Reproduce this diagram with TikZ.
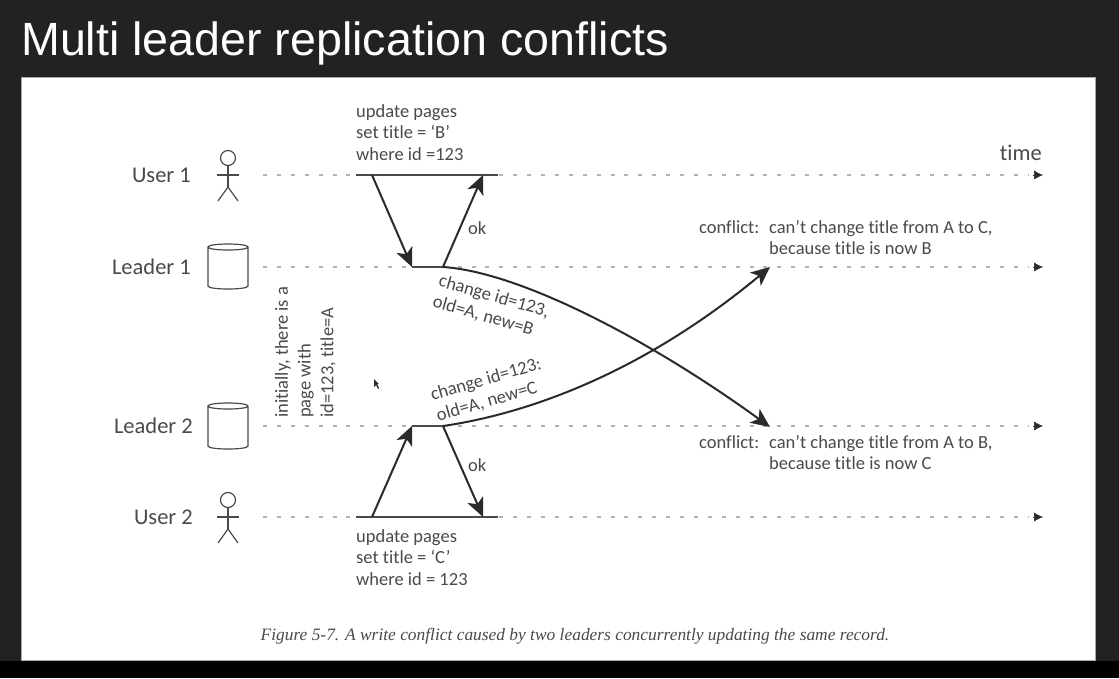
\documentclass[tikz,border=0pt]{standalone}
\usepackage{fontspec}
\setmainfont[Ligatures=NoCommon]{Carlito}
\newfontfamily\titlefont{Liberation Sans}
\newfontfamily\capfont{Liberation Serif}
\usetikzlibrary{arrows.meta,shapes.geometric}
\definecolor{slidebg}{HTML}{222222}
\definecolor{txt}{HTML}{4A4A4A}
\definecolor{ln}{HTML}{2A2A2A}
\tikzset{
  lbl/.style={inner sep=0pt,text=txt,font=\fontsize{18.5}{21.7}\selectfont,align=left},
  who/.style={inner sep=0pt,text=txt,font=\fontsize{22.5}{24}\selectfont},
  timeline/.style={draw=gray!60,line width=1.3pt,dash pattern=on 4pt off 9.9pt},
  tiphead/.style={-{Latex[length=9pt,width=9pt]},ln,line width=.5pt},
  held/.style={draw=ln!85!white,line width=2.2pt},
  msg/.style={draw=ln,line width=2pt,-{Stealth[length=19pt,width=17pt,inset=5pt]}},
  outline/.style={draw=txt,line width=1.2pt},
  stick/.style={draw=txt,line width=1.2pt,fill=white}
}
\begin{document}
\begin{tikzpicture}[x=1pt,y=-1pt]
\useasboundingbox (0,0) rectangle (1119,678);
\fill[slidebg] (0,0) rectangle (1119,678);
\fill[black] (0,661) rectangle (1119,678);
\fill[white,draw=gray!70,line width=1pt] (21,77) rectangle (1095,660);
\node[anchor=west,inner sep=0pt,text=white,font=\titlefont\fontsize{46.6}{50}\selectfont] (title) at (21,43) {Multi leader replication conflicts};

% timelines
\foreach \n/\y in {a/175,b/267,c/426,d/517}{
  \coordinate (s\n) at (263,\y);
  \coordinate (e\n) at (1028,\y);
  \coordinate (t\n) at (1043,\y);
  \draw[timeline] (s\n) -- (e\n);
  \draw[tiphead] (1033,\y) -- (t\n);
}
% names
\node[who,anchor=east] (u1) at (191,175) {User 1};
\node[who,anchor=east] (l1) at (191,267) {Leader 1};
\node[who,anchor=east] (l2) at (193,426) {Leader 2};
\node[who,anchor=east] (u2) at (193,517) {User 2};
\node[who,anchor=east] (time) at (1042,153) {time};

% stick figures
\foreach \n/\y in {a/158,b/500}{
  \node[circle,stick,minimum size=15pt,inner sep=0pt] (h\n) at (228,\y) {};
  \coordinate (hip\n) at (228,\y+29);
  \draw[stick] (h\n.south) -- (hip\n);
  \draw[stick] (217,\y+17) -- (239,\y+17);
  \draw[stick] (218,\y+43) -- (hip\n) -- (238,\y+43);
}
% cylinders
\foreach \n/\t/\b in {a/247/289,b/406/449}{
  \draw[outline,fill=white] (208,\t) -- (208,\b-3) .. controls (208,\b+1) and (248,\b+1) .. (248,\b-3) -- (248,\t)
    .. controls (248,\t-4) and (208,\t-4) .. (208,\t) .. controls (208,\t+4) and (248,\t+4) .. (248,\t);
}
% request segments
\coordinate (u1a) at (356,175); \coordinate (u1b) at (498,175);
\coordinate (l1a) at (412,267); \coordinate (l1b) at (443,267);
\coordinate (l2a) at (412,426); \coordinate (l2b) at (443,426);
\coordinate (u2a) at (356,517); \coordinate (u2b) at (498,517);
\coordinate (p1) at (372,175); \coordinate (p2) at (483,175);
\coordinate (q1) at (372,517); \coordinate (q2) at (483,517);
\coordinate (c1) at (770,267); \coordinate (c2) at (770,427);
\draw[held] (u1a) -- (u1b);
\draw[held] (u2a) -- (u2b);
\draw[held] (l1a) -- (l1b);
\draw[held] (l2a) -- (l2b);
\draw[msg] (p1) -- (l1a);
\draw[msg] (l1b) -- (p2);
\draw[msg] (q1) -- (l2a);
\draw[msg] (l2b) -- (q2);
\draw[msg] (l1b) .. controls (520,272) and (650,340) .. (c2);
\draw[msg] (l2b) .. controls (525,414) and (640,375) .. (c1);

% labels
\node[lbl,anchor=north west] (t1) at (356,104) {update pages\\set title = ‘B’\\where id =123};
\node[lbl,anchor=north west] (t2) at (356,529) {update pages\\set title = ‘C’\\where id = 123};
\node[lbl,anchor=west] (ok1) at (468,228) {ok};
\node[lbl,anchor=west] (ok2) at (468,465) {ok};
\node[lbl,anchor=north west] (c1t) at (699,220) {conflict:};
\node[lbl,anchor=north west] (c1u) at (769,220) {can’t change title from A to C,\\because title is now B};
\node[lbl,anchor=north west] (c2t) at (699,435) {conflict:};
\node[lbl,anchor=north west] (c2u) at (769,435) {can’t change title from A to B,\\because title is now C};
\node[lbl,anchor=center,rotate=-16] (m1) at (491,307) {change id=123,\\old=A, new=B};
\node[lbl,anchor=center,rotate=16] (m2) at (489,390) {change id=123:\\old=A, new=C};
\node[lbl,anchor=south west,rotate=90,font=\fontsize{18.5}{22.8}\selectfont] (init) at (336,418) {initially, there is a\\page with\\id=123, title=A};
\node[inner sep=0pt,anchor=center,text=txt,font=\capfont\itshape\fontsize{17.4}{19}\selectfont] (cap) at (575,636) {Figure 5-7. A write conflict caused by two leaders concurrently updating the same record.};
% pointer
\fill[ln] (374,379) -- (374,387) -- (376,385) -- (378,389) -- (379,388) -- (377,384) -- (379,384) -- cycle;
\end{tikzpicture}
\end{document}
